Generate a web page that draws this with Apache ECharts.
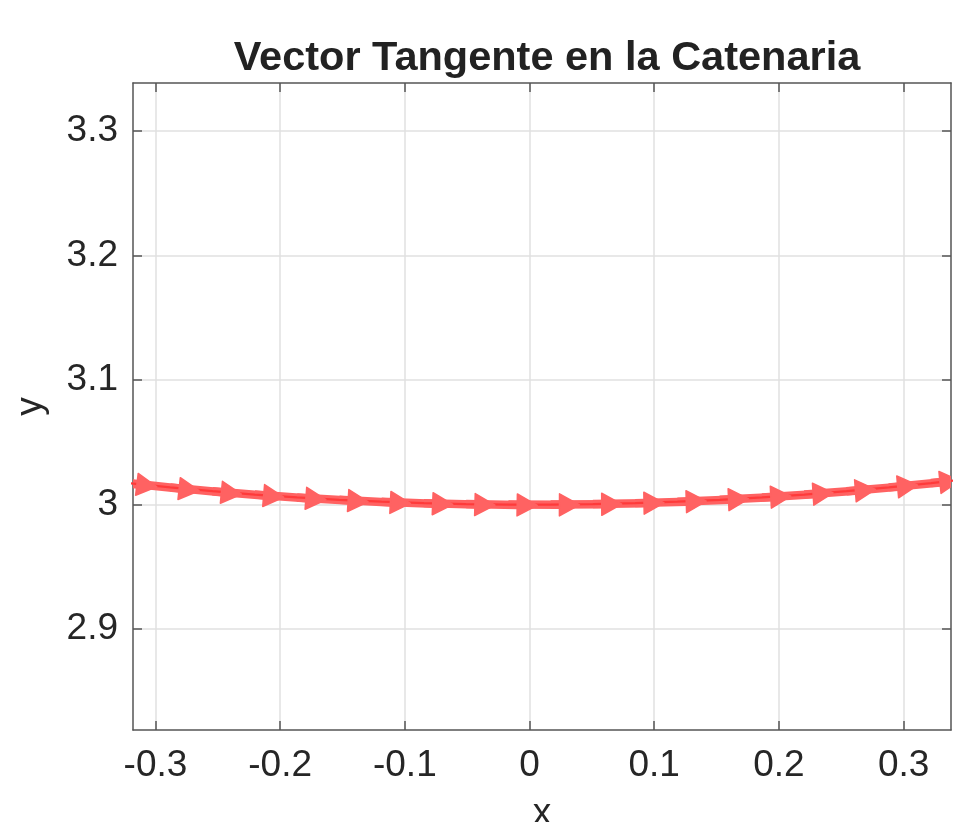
<!DOCTYPE html>
<html>
<head>
<meta charset="utf-8">
<script src="https://cdn.jsdelivr.net/npm/echarts@6/dist/echarts.min.js"></script>
<style>
html,body{margin:0;padding:0;background:#fff;overflow:hidden;}
#chart{width:953px;height:822px;}
</style>
</head>
<body>
<div id="chart"></div>
<script>
// Tail x positions of tangent vectors (points on the catenary)
var xPoints = [-0.423729, -0.389831, -0.355932, -0.322034, -0.288136, -0.254237, -0.220339, -0.186441, -0.152542, -0.118644, -0.084746, -0.050847, -0.016949, 0.016949, 0.050847, 0.084746, 0.118644, 0.152542, 0.186441, 0.220339, 0.254237, 0.288136, 0.322034, 0.355932];
// y positions on the catenary
var yPoints = [3.02996, 3.02536, 3.02114, 3.01730, 3.01385, 3.01078, 3.00810, 3.00580, 3.00388, 3.00235, 3.00120, 3.00043, 3.00005, 3.00005, 3.00043, 3.00120, 3.00235, 3.00388, 3.00580, 3.00810, 3.01078, 3.01385, 3.01730, 3.02114];
// tangent vector components (u, v)
var uComp = [1, 1, 1, 1, 1, 1, 1, 1, 1, 1, 1, 1, 1, 1, 1, 1, 1, 1, 1, 1, 1, 1, 1, 1];
var vComp = [-0.14171, -0.13031, -0.11892, -0.10755, -0.09619, -0.08485, -0.07351, -0.06219, -0.05087, -0.03956, -0.02825, -0.01695, -0.00565, 0.00565, 0.01695, 0.02825, 0.03956, 0.05087, 0.06219, 0.07351, 0.08485, 0.09619, 0.10755, 0.11892];
var arrowScale = 0.057;
var xTicks = [-0.3, -0.2, -0.1, 0, 0.1, 0.2, 0.3];
var yTicks = [2.9, 3.0, 3.1, 3.2, 3.3];
var xRange = [-0.318, 0.338];
var yRange = [2.819, 3.3386];

var curveData = xPoints.map(function (x, i) { return [x, yPoints[i]]; });
var quiverData = xPoints.map(function (x, i) { return [x, yPoints[i], uComp[i], vComp[i]]; });

var arrowColor = '#ff6262';
var lineColor = '#ff3a3a';
var axisColor = '#555555';
var gridColor = '#e0e0e0';
var textColor = '#262626';
var font = '"Liberation Sans", Arial, Helvetica, sans-serif';

function geom(params, api) {
  var x = api.value(0), y = api.value(1), u = api.value(2), v = api.value(3);
  var p0 = api.coord([x, y]);
  var p1 = api.coord([x + arrowScale * u, y + arrowScale * v]);
  var dx = p1[0] - p0[0], dy = p1[1] - p0[1];
  var len = Math.sqrt(dx * dx + dy * dy);
  var ux = dx / len, uy = dy / len;
  var headLen = 20, headHalf = 11;
  var base = [p1[0] - ux * headLen, p1[1] - uy * headLen];
  return {p0: p0, p1: p1, base: base, nx: -uy, ny: ux, headHalf: headHalf};
}

function shaftItem(params, api) {
  var g = geom(params, api);
  return {
    type: 'line',
    shape: {x1: g.p0[0], y1: g.p0[1], x2: g.base[0], y2: g.base[1]},
    style: {stroke: arrowColor, lineWidth: 8.5, lineCap: 'butt'}
  };
}
function headItem(params, api) {
  var g = geom(params, api);
  return {
    type: 'polygon',
    shape: {points: [
      g.p1,
      [g.base[0] + g.nx * g.headHalf, g.base[1] + g.ny * g.headHalf],
      [g.base[0] - g.nx * g.headHalf, g.base[1] - g.ny * g.headHalf]
    ]},
    style: {fill: arrowColor, stroke: arrowColor, lineWidth: 1.5, lineJoin: 'round'}
  };
}

var chart = echarts.init(document.getElementById('chart'), null, {renderer: 'canvas'});
chart.setOption({
  backgroundColor: '#ffffff',
  animation: false,
  title: {
    text: 'Vector Tangente en la Catenaria',
    left: 542,
    textAlign: 'center',
    top: 33,
    textStyle: {fontFamily: font, fontSize: 41.5, fontWeight: 'bold', color: '#222222'}
  },
  grid: {left: 133, top: 83, width: 818, height: 647, containLabel: false, outerBoundsMode: 'none'},
  xAxis: [{
    type: 'value', min: xRange[0], max: xRange[1], position: 'bottom',
    name: 'x', nameLocation: 'middle', nameGap: 65,
    nameTextStyle: {fontFamily: font, fontSize: 37, color: textColor},
    axisLine: {show: true, onZero: false, lineStyle: {color: axisColor, width: 1.5}},
    axisTick: {show: true, inside: true, length: 9, customValues: xTicks, lineStyle: {color: axisColor, width: 1.5}},
    axisLabel: {show: true, customValues: xTicks, margin: 17, fontFamily: font, fontSize: 37, color: textColor,
      formatter: function (v) { return String(Math.round(v * 10) / 10); }},
    splitLine: {show: true, lineStyle: {color: gridColor, width: 1.5}}
  }, {
    type: 'value', min: xRange[0], max: xRange[1], position: 'top',
    axisLine: {show: true, onZero: false, lineStyle: {color: axisColor, width: 1.5}},
    axisTick: {show: true, inside: true, length: 9, customValues: xTicks, lineStyle: {color: axisColor, width: 1.5}},
    axisLabel: {show: false, customValues: xTicks},
    splitLine: {show: false}
  }],
  yAxis: [{
    type: 'value', min: yRange[0], max: yRange[1], position: 'left',
    name: 'y', nameLocation: 'middle', nameGap: 84, nameRotate: 90,
    nameTextStyle: {fontFamily: font, fontSize: 37, color: textColor},
    axisLine: {show: true, onZero: false, lineStyle: {color: axisColor, width: 1.5}},
    axisTick: {show: true, inside: true, length: 9, customValues: yTicks, lineStyle: {color: axisColor, width: 1.5}},
    axisLabel: {show: true, customValues: yTicks, margin: 15, fontFamily: font, fontSize: 37, color: textColor,
      formatter: function (v) { var r = Math.round(v * 10) / 10; return r === 3 ? '3' : r.toFixed(1); }},
    splitLine: {show: true, lineStyle: {color: gridColor, width: 1.5}}
  }, {
    type: 'value', min: yRange[0], max: yRange[1], position: 'right',
    axisLine: {show: true, onZero: false, lineStyle: {color: axisColor, width: 1.5}},
    axisTick: {show: true, inside: true, length: 9, customValues: yTicks, lineStyle: {color: axisColor, width: 1.5}},
    axisLabel: {show: false, customValues: yTicks},
    splitLine: {show: false}
  }],
  series: [{
    type: 'custom', name: 'shafts', renderItem: shaftItem, data: quiverData, clip: true, z: 1,
    encode: {x: 0, y: 1}, silent: true
  }, {
    type: 'line', name: 'catenaria', data: curveData, showSymbol: false, smooth: false, z: 2,
    lineStyle: {color: lineColor, width: 2.2}, clip: true, silent: true
  }, {
    type: 'custom', name: 'heads', renderItem: headItem, data: quiverData, clip: true, z: 3,
    encode: {x: 0, y: 1}, silent: true
  }]
});
</script>
</body>
</html>
